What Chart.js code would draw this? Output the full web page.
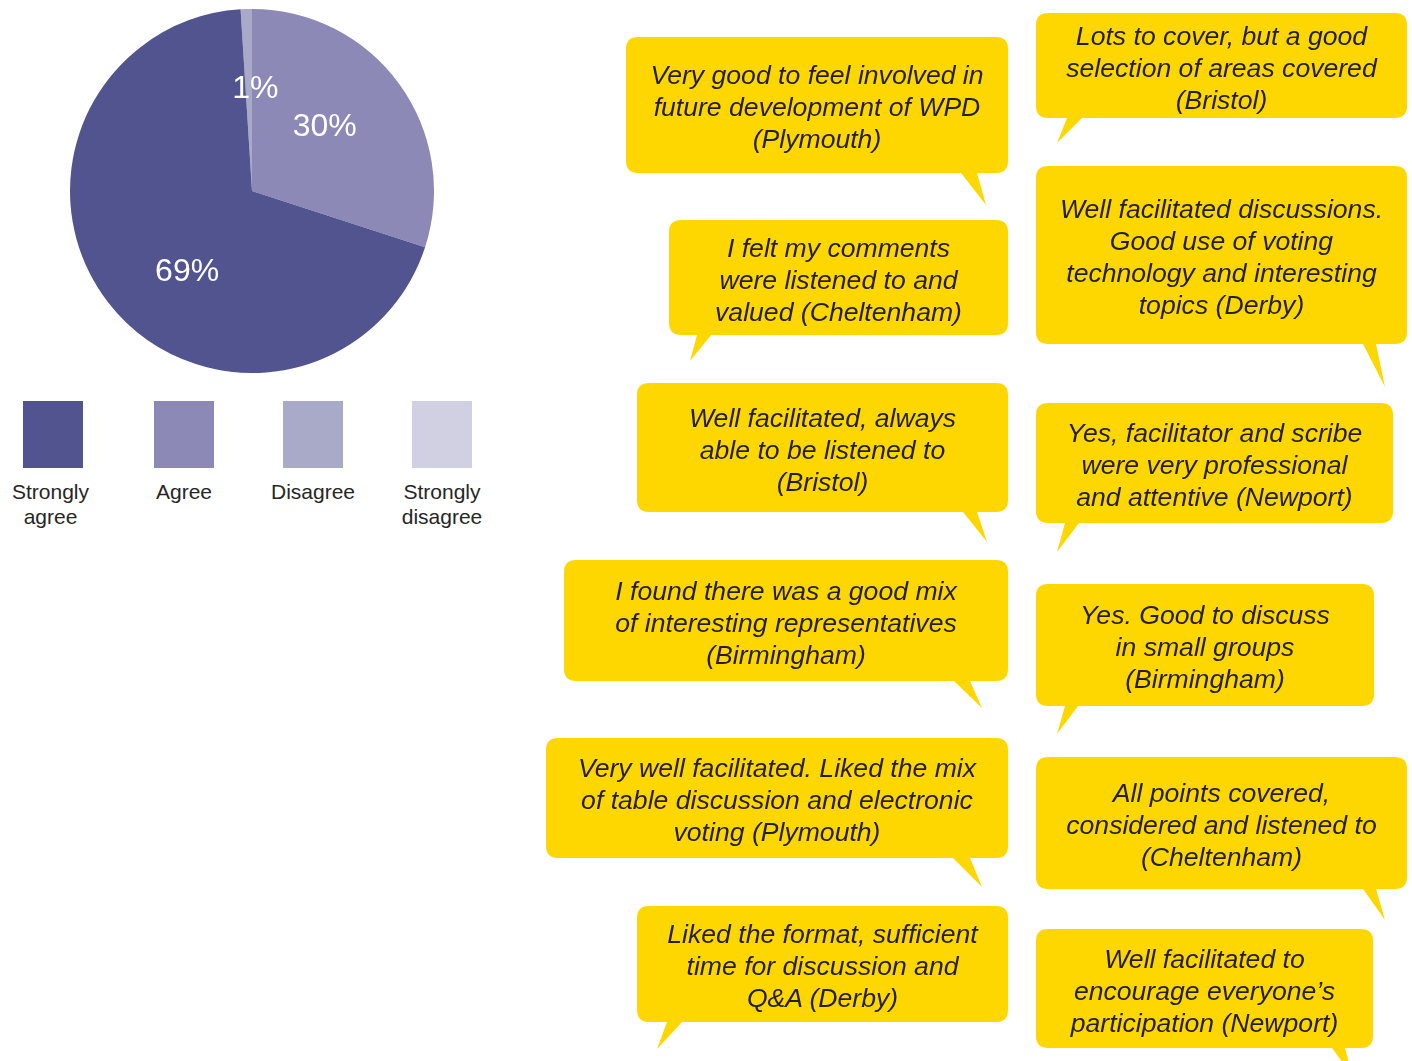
<!DOCTYPE html>
<html lang="en">
<head>
<meta charset="utf-8">
<title>Did you feel the workshop was well run?</title>
<script src="https://cdn.jsdelivr.net/npm/chart.js@4/dist/chart.umd.min.js"></script>
<style>
  html, body { margin: 0; padding: 0; background: #ffffff; }
  #page {
    position: relative;
    width: 1412px;
    height: 1061px;
    overflow: hidden;
    font-family: "Liberation Sans", Arial, sans-serif;
  }
  #pieBox { position: absolute; left: 70px; top: 9px; width: 364px; height: 364px; }
  .key { position: absolute; top: 401px; width: 130px; text-align: center; }
  .key .swatch { width: 60px; height: 67px; margin: 0 auto; }
  .key .name { margin-top: 11px; font-size: 21px; line-height: 25px; color: #262626; }
  #bubbles { position: absolute; left: 0; top: 0; }
  .quote {
    position: absolute;
    box-sizing: border-box;
    padding-top: 4px;
    display: flex;
    align-items: center;
    justify-content: center;
    text-align: center;
    font-style: italic;
    font-size: 26.6px;
    line-height: 32px;
    color: #231f20;
    white-space: nowrap;
  }
</style>
</head>
<body>
<div id="page">
  <div id="pieBox"><canvas id="pie"></canvas></div>
  <div id="legend"></div>
  <svg id="bubbles" width="1412" height="1061"></svg>
  <div id="quotes"></div>
</div>

<script>
// Survey responses (percent of attendees)
const categories = ['Strongly agree', 'Agree', 'Disagree', 'Strongly disagree'];
const percentages = [69, 30, 1, 0];
const sliceColors = ['#525490', '#8d89b6', '#a9a9c8', '#d1d0e3'];

// Attendee comments, one list of lines per speech bubble
const comments = [
  ['Very good to feel involved in', 'future development of WPD', '(Plymouth)'],
  ['I felt my comments', 'were listened to and', 'valued (Cheltenham)'],
  ['Well facilitated, always', 'able to be listened to', '(Bristol)'],
  ['I found there was a good mix', 'of interesting representatives', '(Birmingham)'],
  ['Very well facilitated. Liked the mix', 'of table discussion and electronic', 'voting (Plymouth)'],
  ['Liked the format, sufficient', 'time for discussion and', 'Q&A (Derby)'],
  ['Lots to cover, but a good', 'selection of areas covered', '(Bristol)'],
  ['Well facilitated discussions.', 'Good use of voting', 'technology and interesting', 'topics (Derby)'],
  ['Yes, facilitator and scribe', 'were very professional', 'and attentive (Newport)'],
  ['Yes. Good to discuss', 'in small groups', '(Birmingham)'],
  ['All points covered,', 'considered and listened to', '(Cheltenham)'],
  ['Well facilitated to', 'encourage everyone\u2019s', 'participation (Newport)']
];

// Bubble boxes [left, top, width, height] and tails [base x1, base x2, tip x, tip y]
const bubbleBoxes = [
  [626, 37, 382, 136], [669, 220, 339, 115], [637, 383, 371, 129],
  [564, 560, 444, 121], [546, 738, 462, 120], [637, 906, 371, 116],
  [1036, 13, 371, 105], [1036, 166, 371, 178], [1036, 403, 357, 120],
  [1036, 584, 338, 122], [1036, 757, 371, 132], [1036, 929, 337, 119]
];
const bubbleTails = [
  [961, 977, 986, 205], [697, 711, 690, 361], [963, 977, 987, 542],
  [954, 970, 982, 708], [953, 970, 982, 887], [667, 682, 657, 1049],
  [1067, 1082, 1057, 143], [1363, 1376, 1385, 387], [1065, 1079, 1057, 552],
  [1065, 1078, 1057, 734], [1363, 1376, 1385, 920], [1332, 1345, 1352, 1075]
];

// ---- Legend: swatch with the category name underneath ----
const legendLefts = [-12, 119, 248, 377];
const legendEl = document.getElementById('legend');
categories.forEach((name, i) => {
  const item = document.createElement('div');
  item.className = 'key';
  item.style.left = legendLefts[i] + 'px';
  const sw = document.createElement('div');
  sw.className = 'swatch';
  sw.style.background = sliceColors[i];
  const label = document.createElement('div');
  label.className = 'name';
  label.style.marginLeft = (i === 0 ? -5 : 0) + 'px';
  label.innerHTML = name.replace(' ', '<br>');
  item.appendChild(sw);
  item.appendChild(label);
  legendEl.appendChild(item);
});

// ---- Speech bubbles ----
const svgNS = 'http://www.w3.org/2000/svg';
const svg = document.getElementById('bubbles');
const quotesEl = document.getElementById('quotes');
bubbleBoxes.forEach(([x, y, w, h], i) => {
  const r = 12;
  const [b1, b2, tx, ty] = bubbleTails[i];
  const bottom = y + h;
  const d = [
    `M ${x + r} ${y}`,
    `H ${x + w - r}`,
    `Q ${x + w} ${y} ${x + w} ${y + r}`,
    `V ${bottom - r}`,
    `Q ${x + w} ${bottom} ${x + w - r} ${bottom}`,
    `H ${Math.max(b1, b2)}`,
    `L ${tx} ${ty}`,
    `L ${Math.min(b1, b2)} ${bottom}`,
    `H ${x + r}`,
    `Q ${x} ${bottom} ${x} ${bottom - r}`,
    `V ${y + r}`,
    `Q ${x} ${y} ${x + r} ${y}`,
    'Z'
  ].join(' ');
  const path = document.createElementNS(svgNS, 'path');
  path.setAttribute('d', d);
  path.setAttribute('fill', '#ffd700');
  svg.appendChild(path);

  const q = document.createElement('div');
  q.className = 'quote';
  q.style.left = x + 'px';
  q.style.top = y + 'px';
  q.style.width = w + 'px';
  q.style.height = h + 'px';
  const inner = document.createElement('div');
  comments[i].forEach((line, k) => {
    if (k) inner.appendChild(document.createElement('br'));
    inner.appendChild(document.createTextNode(line));
  });
  q.appendChild(inner);
  quotesEl.appendChild(q);
});

// ---- Pie ----
// Slices are drawn clockwise from the top in reverse category order.
const drawOrder = categories.map((_, i) => i).reverse();

// Percentage labels written inside the slices
const sliceLabels = {
  id: 'sliceLabels',
  afterDatasetsDraw(chart, args, opts) {
    const ctx = chart.ctx;
    const meta = chart.getDatasetMeta(0);
    ctx.save();
    ctx.fillStyle = opts.color;
    ctx.font = opts.font;
    ctx.textAlign = 'center';
    ctx.textBaseline = 'middle';
    meta.data.forEach((arc, j) => {
      const cat = drawOrder[j];
      const value = percentages[cat];
      if (!value) return;
      const p = arc.getProps(['x', 'y', 'startAngle', 'endAngle', 'outerRadius'], true);
      const place = opts.placement[cat];
      const mid = (p.startAngle + p.endAngle) / 2 + place.turn * Math.PI / 180;
      const rr = p.outerRadius * place.radius;
      ctx.fillText(value + '%', p.x + Math.cos(mid) * rr, p.y + Math.sin(mid) * rr + 2);
    });
    ctx.restore();
  }
};

new Chart(document.getElementById('pie'), {
  type: 'pie',
  data: {
    labels: drawOrder.map(i => categories[i]),
    datasets: [{
      data: drawOrder.map(i => percentages[i]),
      backgroundColor: drawOrder.map(i => sliceColors[i]),
      borderWidth: 0
    }]
  },
  options: {
    responsive: true,
    maintainAspectRatio: false,
    animation: false,
    rotation: -3.6,
    layout: { padding: 0 },
    plugins: {
      legend: { display: false },
      tooltip: { enabled: false },
      sliceLabels: {
        color: '#ffffff',
        font: '32px "Liberation Sans", Arial, sans-serif',
        placement: [
          { turn: -13, radius: 0.564 },
          { turn: -6.3, radius: 0.54 },
          { turn: 3.7, radius: 0.57 },
          { turn: 0, radius: 0.6 }
        ]
      }
    }
  },
  plugins: [sliceLabels]
});
</script>
</body>
</html>
